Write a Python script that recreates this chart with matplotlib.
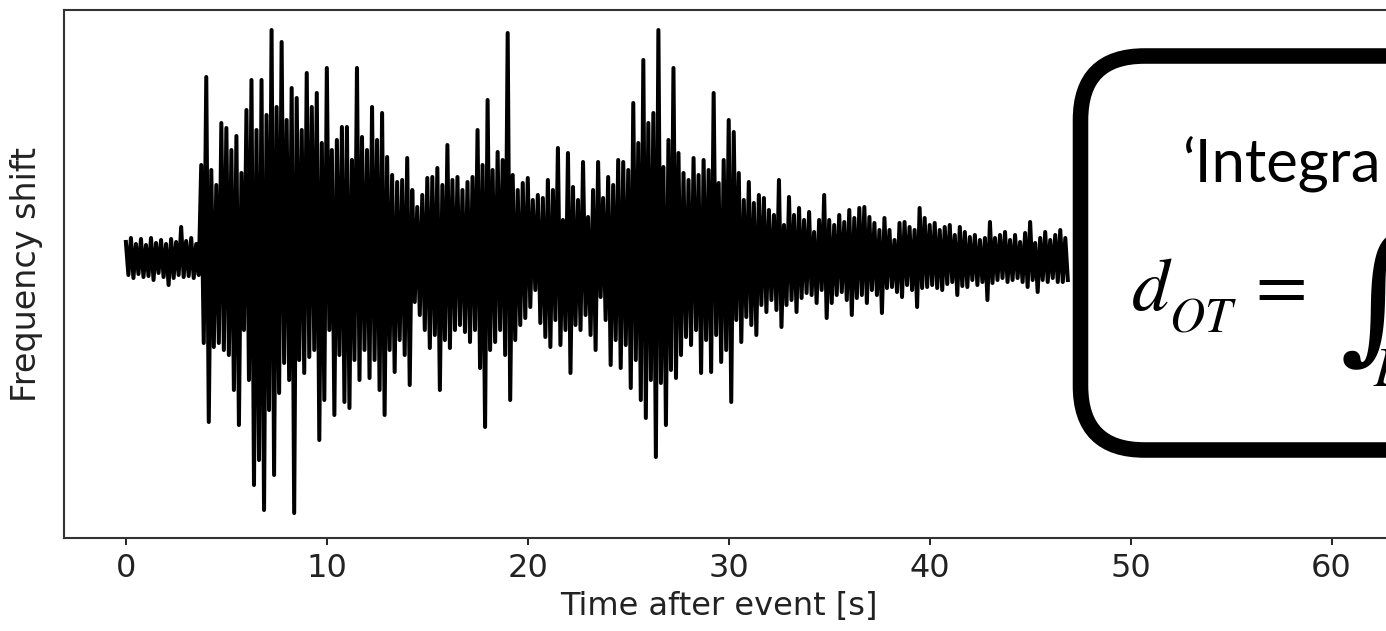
import numpy as np
import matplotlib
matplotlib.use("Agg")
import matplotlib.pyplot as plt
from matplotlib.patches import FancyBboxPatch

# frequency-shift trace, arbitrary units
# upper peaks at t = 0, 0.25, 0.5 ... ; lower troughs 0.125 s later
dt = 0.25
upper = [
    18, 22, 16, 21,   15, 22, 17, 20,   16, 21, 18, 33,   19, 22, 16, 95,
    183, 90, 75, 137,   132, 110, 124, 87,   150, 180, 130, 180,   145, 230, 153, 218,
    140, 172, 162, 130,   187, 153, 167, 117,   192, 110, 120, 133,   133, 100, 192, 123,
    110, 153, 120, 147,   103, 85, 78, 80,   102, 70, 53, 65,   82, 83, 92, 75,
    115, 80, 83, 70,   78, 83, 130, 95,   160, 90, 108, 100,   227, 85, 70, 77,
    82, 60, 65, 62,   80, 70, 112, 40,   107, 73, 60, 98,   43, 70, 98, 62,
    83, 75, 100, 98,   90, 157, 117, 200,   137, 147, 230, 93,   120, 192, 107, 87,
    80, 102, 85, 100,   90, 167, 77, 100,   140, 128, 87, 60,   78, 57, 65, 62,
    50, 45, 80, 35,   63, 45, 52, 40,   48, 28, 40, 65,   40, 35, 45, 38,
    50, 42, 52, 53,   43, 37, 30, 42,   30, 20, 37, 38,   33, 30, 52, 42,
    35, 37, 30, 33,   35, 25, 33, 28,   23, 25, 20, 22,   38, 22, 25, 28,
    20, 25, 18, 27,   38, 17, 22, 28,   20, 25, 30, 22,
]
lower = [
    -15, -18, -14, -17,   -16, -20, -13, -17,   -25, -18, -15, -17,   -16, -18, -15, -83,
    -162, -87, -83, -90,   -95, -130, -165, -70,   -120, -225, -200, -250,   -150, -215, -133, -103,
    -120, -253, -100, -113,   -97, -90, -180, -140,   -70, -155, -95, -142,   -148, -100, -120, -90,
    -118, -100, -130, -155,   -90, -112, -80, -95,   -125, -42, -55, -70,   -88, -75, -130, -80,
    -88, -70, -65, -72,   -82, -70, -108, -167,   -90, -82, -70, -95,   -140, -80, -65, -58,
    -47, -30, -63, -77,   -87, -60, -85, -70,   -113, -65, -70, -55,   -75, -90, -37, -60,
    -105, -80, -108, -85,   -128, -100, -140, -158,   -120, -197, -123, -165,   -110, -118, -95, -77,
    -85, -70, -113, -80,   -112, -75, -102, -90,   -142, -60, -82, -57,   -65, -75, -45, -52,
    -40, -50, -67, -45,   -40, -52, -38, -33,   -35, -43, -30, -58,   -43, -35, -32, -40,
    -55, -38, -35, -43,   -30, -35, -53, -28,   -27, -32, -37, -25,   -30, -47, -28, -27,
    -25, -28, -30, -24,   -22, -35, -26, -27,   -20, -25, -22, -40,   -23, -20, -18, -22,
    -20, -18, -22, -27,   -20, -32, -20, -22,   -18, -22, -22, -20,
]
xticks = [0, 10, 20, 30, 40, 50, 60]

t_up = np.arange(len(upper)) * dt
t_lo = t_up + dt / 2
t = np.empty(2 * len(upper))
y = np.empty(2 * len(upper))
t[0::2], t[1::2] = t_up, t_lo
y[0::2], y[1::2] = upper, lower

W, H = 1386, 631
fig = plt.figure(figsize=(W / 100, H / 100), dpi=100)
ax = fig.add_axes([64 / W, (H - 538) / H, (1428 - 64) / W, 528 / H])

ax.plot(t, y, color="black", lw=2.9)
ax.set_xlim(-3.08, 64.8)
ax.set_ylim(-278, 250)
ax.set_xticks(xticks)
ax.set_yticks([])
ax.tick_params(axis="x", labelsize=23, length=5, width=1.4, pad=6, colors="#222222")
for s in ax.spines.values():
    s.set_linewidth(1.5)
    s.set_color("#333333")
ax.set_ylabel("Frequency shift", fontsize=24, labelpad=15, color="#222222")
ax.set_xlabel("Time after event [s]", fontsize=23, color="#222222")
ax.xaxis.set_label_coords(0.48, -0.1)

# rounded callout box over the right part of the chart
box = FancyBboxPatch((10.805, 1.81), 5.5, 3.94,
                     boxstyle="round,pad=0,rounding_size=0.64",
                     transform=fig.dpi_scale_trans, facecolor="white",
                     edgecolor="black", linewidth=11.2, zorder=5)
fig.add_artist(box)

inch = fig.dpi_scale_trans
fig.text(11.82, (H - 182) / 100, "\u2018Integra", fontsize=43, family="Lato",
         transform=inch, va="baseline", ha="left", zorder=6)
fig.text(11.31, (H - 310) / 100, r"$d$", fontsize=54, math_fontfamily="stix",
         transform=inch, va="baseline", ha="left", zorder=6)
fig.text(11.69, (H - 331) / 100, r"$OT$", fontsize=35, math_fontfamily="stix",
         transform=inch, va="baseline", ha="left", zorder=6)
fig.text(12.45, (H - 307) / 100, r"$=$", fontsize=54, math_fontfamily="stix",
         transform=inch, va="baseline", ha="left", zorder=6)
fig.text(13.40, (H - 343) / 100, "\u222b", fontsize=105,
         family=["DejaVu Serif", "DejaVu Sans"],
         transform=inch, va="baseline", ha="left", zorder=6)
fig.text(13.73, (H - 386) / 100, r"$L$", fontsize=40, math_fontfamily="stix",
         transform=inch, va="baseline", ha="left", zorder=6)

fig.savefig("out.png", dpi=100)
